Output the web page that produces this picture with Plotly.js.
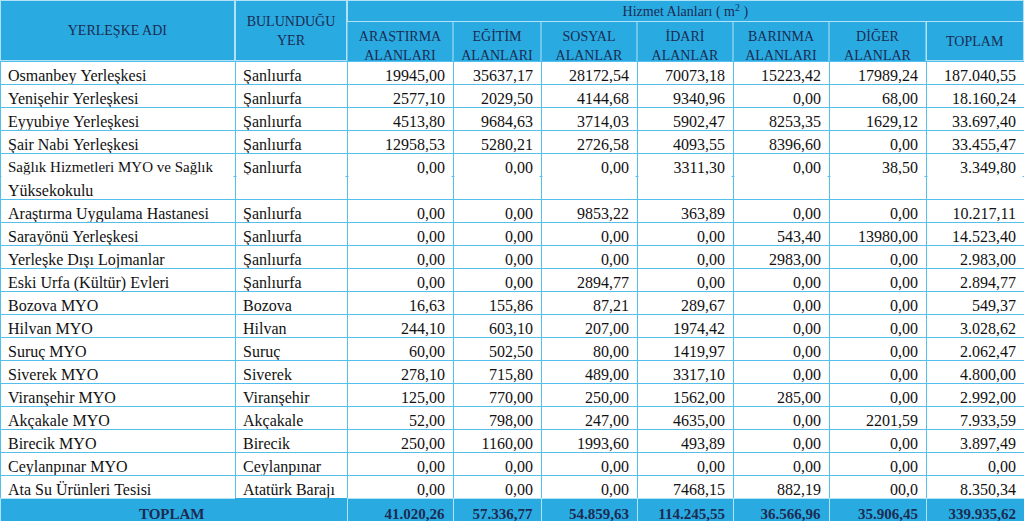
<!DOCTYPE html>
<html>
<head>
<meta charset="utf-8">
<script src="https://cdn.plot.ly/plotly-3.0.1.min.js"></script>
<style>
html,body{margin:0;padding:0;background:#ffffff;}
#chart{width:1024px;height:521px;}
</style>
</head>
<body>
<div id="chart"></div>
<script>
// ---------- DATA ----------
const groupTitle = "Hizmet Alanları ( m<sup>2</sup> )";
const headerLabels = ["YERLEŞKE ADI", "BULUNDUĞU<br>YER", "ARAŞTIRMA<br>ALANLARI", "EĞİTİM<br>ALANLARI",
  "SOSYAL<br>ALANLAR", "İDARİ<br>ALANLAR", "BARINMA<br>ALANLARI", "DİĞER<br>ALANLAR", "TOPLAM"];

const campusNames = ["Osmanbey Yerleşkesi", "Yenişehir Yerleşkesi", "Eyyubiye Yerleşkesi", "Şair Nabi Yerleşkesi",
  "Sağlık Hizmetleri MYO ve Sağlık<br>Yüksekokulu", "Araştırma Uygulama Hastanesi", "Sarayönü Yerleşkesi",
  "Yerleşke Dışı Lojmanlar", "Eski Urfa (Kültür) Evleri", "Bozova MYO", "Hilvan MYO", "Suruç MYO",
  "Siverek MYO", "Viranşehir MYO", "Akçakale MYO", "Birecik MYO", "Ceylanpınar MYO", "Ata Su Ürünleri Tesisi"];

const locations = ["Şanlıurfa", "Şanlıurfa", "Şanlıurfa", "Şanlıurfa", "Şanlıurfa", "Şanlıurfa", "Şanlıurfa",
  "Şanlıurfa", "Şanlıurfa", "Bozova", "Hilvan", "Suruç", "Siverek", "Viranşehir", "Akçakale", "Birecik",
  "Ceylanpınar", "Atatürk Barajı"];

const arastirma = ["19945,00", "2577,10", "4513,80", "12958,53", "0,00", "0,00", "0,00", "0,00", "0,00",
  "16,63", "244,10", "60,00", "278,10", "125,00", "52,00", "250,00", "0,00", "0,00"];
const egitim = ["35637,17", "2029,50", "9684,63", "5280,21", "0,00", "0,00", "0,00", "0,00", "0,00",
  "155,86", "603,10", "502,50", "715,80", "770,00", "798,00", "1160,00", "0,00", "0,00"];
const sosyal = ["28172,54", "4144,68", "3714,03", "2726,58", "0,00", "9853,22", "0,00", "0,00", "2894,77",
  "87,21", "207,00", "80,00", "489,00", "250,00", "247,00", "1993,60", "0,00", "0,00"];
const idari = ["70073,18", "9340,96", "5902,47", "4093,55", "3311,30", "363,89", "0,00", "0,00", "0,00",
  "289,67", "1974,42", "1419,97", "3317,10", "1562,00", "4635,00", "493,89", "0,00", "7468,15"];
const barinma = ["15223,42", "0,00", "8253,35", "8396,60", "0,00", "0,00", "543,40", "2983,00", "0,00",
  "0,00", "0,00", "0,00", "0,00", "285,00", "0,00", "0,00", "0,00", "882,19"];
const diger = ["17989,24", "68,00", "1629,12", "0,00", "38,50", "0,00", "13980,00", "0,00", "0,00",
  "0,00", "0,00", "0,00", "0,00", "0,00", "2201,59", "0,00", "0,00", "00,0"];
const toplam = ["187.040,55", "18.160,24", "33.697,40", "33.455,47", "3.349,80", "10.217,11", "14.523,40",
  "2.983,00", "2.894,77", "549,37", "3.028,62", "2.062,47", "4.800,00", "2.992,00", "7.933,59", "3.897,49",
  "0,00", "8.350,34"];

const totalLabel = "TOPLAM";
const columnTotals = ["41.020,26", "57.336,77", "54.859,63", "114.245,55", "36.566,96", "35.906,45", "339.935,62"];

// ---------- STYLE ----------
const colWidths = [235, 112, 106, 88, 96, 96, 96, 97, 98];
const W = 1024, H = 521;
const bandH = 22, headerH = 39, rowH = 23;
const BLUE = "#29abe2", NAVY = "#1b2b52", GRID = "#55bfeb", LIGHT = "#b3e2f6";
const FONT = "Liberation Serif";
const boxCols = [0, 1, 8];   // header cells spanning both header bands

// ---------- BUILD CELLS ----------
const valueCols = [arastirma, egitim, sosyal, idari, barinma, diger, toplam];
const cols = [[], []];
valueCols.forEach(() => cols.push([]));
const rowKind = [];
campusNames.forEach((name, i) => {
  const parts = name.split("<br>");
  parts.forEach((p, k) => {
    cols[0].push(p.replace(/ /g, "\u00a0"));
    cols[1].push(k === 0 ? locations[i] : "");
    valueCols.forEach((vc, j) => cols[j + 2].push(k === 0 ? vc[i] : ""));
    rowKind.push(parts.length > 1 ? (k === 0 ? "long" : "cont") : "body");
  });
});
cols[0].push("<b>" + totalLabel + "</b>" + "\u00a0".repeat(6));
cols[1].push("");
columnTotals.forEach((t, j) => cols[j + 2].push("<b>" + t + "</b>"));
rowKind.push("total");

const fillColors = cols.map(() => rowKind.map(k => k === "total" ? BLUE : "#ffffff"));
const fontColors = cols.map(() => rowKind.map(k => k === "total" ? NAVY : "#111111"));
const fontSizes = cols.map((c, ci) => rowKind.map(k => {
  if (k === "total") return 15;
  return (ci === 0 && k === "long") ? 15 : 16;
}));
const lineColors = cols.map((c, ci) => rowKind.map(k => k === "total" ? (ci === 1 ? BLUE : LIGHT) : GRID));
const aligns = cols.map((c, ci) => rowKind.map(k => {
  if (ci === 0) return k === "total" ? "right" : "left";
  if (ci === 1) return "left";
  return "right";
}));

// header: two single-line header rows per column
const hdrVals = headerLabels.map((h, i) => {
  if (boxCols.includes(i)) return ["", ""];
  const p = h.split("<br>");
  return [p[0], p[1] || ""];
});

const trace = {
  type: "table",
  domain: {x: [0, 1], y: [0, 1 - bandH / H]},
  columnwidth: colWidths,
  header: {
    values: hdrVals,
    align: "center",
    height: headerH / 2,
    fill: {color: BLUE},
    line: {color: BLUE, width: 0},
    font: {family: FONT, size: 14, color: NAVY}
  },
  cells: {
    values: cols,
    align: aligns,
    height: rowH,
    fill: {color: fillColors},
    line: {color: lineColors, width: 1},
    font: {family: FONT, size: fontSizes, color: fontColors}
  }
};

const shapes = [];
// vertical dividers inside the lower header band
let cx = 0;
colWidths.forEach((w, i) => {
  if (i > 0) {
    shapes.push({type: "line", xref: "paper", yref: "paper", layer: "above",
      x0: cx / W, x1: cx / W, y0: 1 - bandH / H, y1: 1 - (bandH + headerH) / H,
      line: {color: LIGHT, width: 1}});
  }
  cx += w;
});
// hide the inner line of the two-line campus name
let yTop = bandH + headerH;
rowKind.forEach((k) => {
  if (k === "cont") {
    let x0 = 0;
    colWidths.forEach(w => {
      shapes.push({type: "rect", xref: "paper", yref: "paper", layer: "above",
        x0: (x0 + 1.5) / W, x1: (x0 + w - 1.5) / W,
        y0: 1 - (yTop + 1.5) / H, y1: 1 - (yTop - 1.5) / H,
        fillcolor: "#ffffff", line: {width: 0}});
      x0 += w;
    });
  }
  yTop += rowH;
});

function box(x0, y0, w, h, text) {
  return {
    xref: "paper", yref: "paper", x: x0 / W, y: 1 - y0 / H, xanchor: "left", yanchor: "top",
    width: w - 2, height: h - 2, borderpad: 0, borderwidth: 1,
    bgcolor: BLUE, bordercolor: LIGHT, showarrow: false, align: "center", valign: "middle",
    text: text, font: {family: FONT, size: 14, color: NAVY}
  };
}
const colLeft = i => colWidths.slice(0, i).reduce((a, b) => a + b, 0);
const leftBand = colLeft(2);
const annotations = [
  box(0, 0, colWidths[0], bandH + headerH, headerLabels[0]),
  box(colLeft(1), 0, colWidths[1], bandH + headerH, headerLabels[1]),
  box(leftBand, 0, W - leftBand, bandH, groupTitle),
  box(colLeft(8), bandH - 1, colWidths[8], headerH + 1, headerLabels[8])
];

const layout = {
  width: W, height: H,
  margin: {l: 0, r: 0, t: 0, b: 0, pad: 0},
  paper_bgcolor: "#ffffff",
  shapes: shapes,
  annotations: annotations
};

Plotly.newPlot("chart", [trace], layout, {displayModeBar: false, staticPlot: true});
</script>
</body>
</html>
